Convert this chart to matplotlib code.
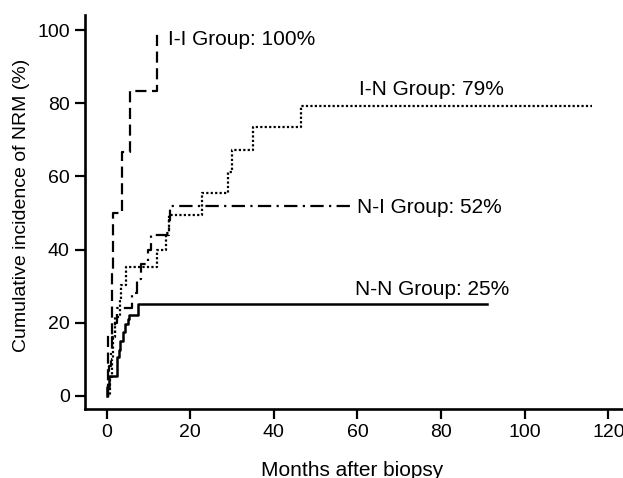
import matplotlib
matplotlib.use("Agg")
import matplotlib.pyplot as plt

plt.rcParams['font.family'] = ['Liberation Sans', 'DejaVu Sans']

# Cumulative incidence step data (months, %)
ii_months = [0, 0.4, 1.4, 1.6, 3.6, 5.6, 12.0]
ii_values = [0, 16.7, 33.3, 50.0, 66.7, 83.3, 100.0]

in_months = [0, 0.8, 1.2, 1.6, 2.0, 3.2, 3.4, 4.6, 12.0, 14.2, 15.0, 22.8, 29.0, 30.0, 35.0, 46.5, 116.0]
in_values = [0, 5.0, 10.0, 16.0, 21.5, 26.0, 30.3, 35.3, 40.0, 44.5, 49.4, 55.4, 61.3, 67.2, 73.5, 79.4, 79.4]

ni_months = [0, 0.3, 0.6, 1.0, 1.4, 2.0, 2.6, 6.0, 7.2, 8.2, 10.0, 10.5, 15.0, 15.2, 59.0]
ni_values = [0, 4.0, 8.0, 12.0, 16.0, 20.0, 24.0, 28.0, 32.0, 36.0, 40.0, 44.0, 48.0, 52.0, 52.0]

nn_months = [0, 0.2, 0.5, 2.4, 2.6, 2.9, 3.3, 3.8, 4.5, 5.0, 5.4, 7.5, 91.0]
nn_values = [0, 2.5, 5.5, 8.0, 10.5, 12.5, 15.0, 17.5, 19.5, 21.0, 22.0, 25.0, 25.0]

group_labels = ["I-I Group: 100%", "I-N Group: 79%", "N-I Group: 52%", "N-N Group: 25%"]
label_x = [14.7, 60.4, 60.0, 59.5]
label_y = [95.9, 82.3, 50.0, 27.5]

x_ticks = [0, 20, 40, 60, 80, 100, 120]
y_ticks = [0, 20, 40, 60, 80, 100]

fig = plt.figure(figsize=(6.23, 4.78), dpi=100)
ax = fig.add_axes([85/623, 69/478, 1 - 85/623, (409 - 15)/478])

lw = 1.6
ax.step(ii_months, ii_values, where='post', color='black', lw=lw, linestyle=(0, (5, 2.5)))
ax.step(in_months, in_values, where='post', color='black', lw=lw, linestyle=(0, (1, 1)))
ax.step(ni_months, ni_values, where='post', color='black', lw=lw, linestyle=(0, (6, 2.4, 1, 2.4)))
ax.step(nn_months, nn_values, where='post', color='black', lw=1.8, linestyle='-')

for t, x, y in zip(group_labels, label_x, label_y):
    ax.text(x, y, t, fontsize=15, va='baseline', ha='left', color='black')

ax.set_xlim(-5.17, 123.5)
ax.set_ylim(-3.64, 104.2)
ax.set_xticks(x_ticks)
ax.set_yticks(y_ticks)
ax.tick_params(axis='both', direction='out', length=7, width=1.6, labelsize=14, pad=4, colors='black')

for s in ['top', 'right']:
    ax.spines[s].set_visible(False)
for s in ['left', 'bottom']:
    ax.spines[s].set_linewidth(1.9)

fig.text(22/623, 1 - 205/478, "Cumulative incidence of NRM (%)", rotation=90,
         ha='center', va='center', fontsize=14)
fig.text(352.4/623, 1.5/478, "Months after biopsy", ha='center', va='baseline', fontsize=15)

fig.savefig("out.png", dpi=100)
